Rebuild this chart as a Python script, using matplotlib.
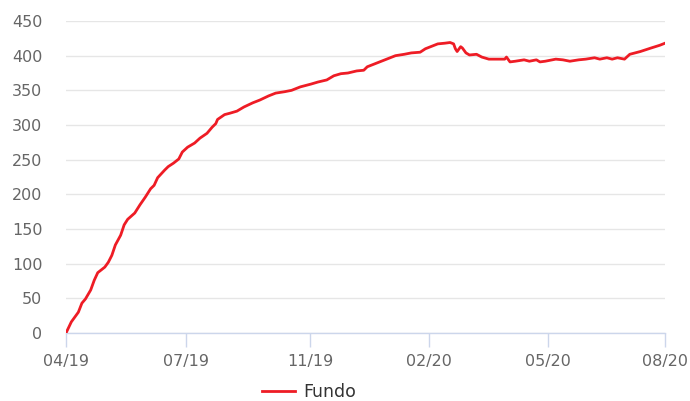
import numpy as np
import matplotlib

matplotlib.use("Agg")
import matplotlib.pyplot as plt

# Trading-day index (0 = 04/19) and fund value
dias = [0, 3, 7, 9, 11, 14, 16, 18, 22, 24, 26, 28, 31, 33, 35, 39, 42, 45,
        48, 50, 52, 56, 58, 61, 64, 66, 69, 73, 76, 80, 83, 85, 86, 90, 93,
        97, 101, 106, 110, 115, 119, 124, 128, 133, 139, 143, 148, 152, 156,
        160, 165, 169, 171, 175, 179, 184, 187, 192, 196, 201, 204, 208, 211,
        215, 218, 220, 221, 222, 224, 225, 227, 229, 233, 236, 240, 244, 249,
        250, 252, 255, 260, 263, 267, 269, 272, 276, 278, 282, 286, 291, 295,
        300, 303, 307, 310, 313, 317, 320, 326, 332, 337, 340]
fundo = [0, 16, 30, 43, 49, 62, 76, 87, 95, 102, 112, 127, 141, 156, 164,
         173, 185, 196, 208, 213, 224, 235, 240, 245, 251, 261, 268, 274, 281,
         288, 297, 302, 308, 315, 317, 320, 326, 332, 336, 342, 346, 348, 350,
         355, 359, 362, 365, 371, 374, 375, 378, 379, 384, 388, 392, 397, 400,
         402, 404, 405, 410, 414, 417, 418, 419, 417, 410, 406, 413, 411, 404,
         401, 402, 398, 395, 395, 395, 398, 391, 392, 394, 392, 394, 391, 392,
         394, 395, 394, 392, 394, 395, 397, 395, 397, 395, 397, 395, 402, 406,
         411, 415, 418]

tick_pos = [0, 68, 138.5, 206, 273.5, 340]
tick_labels = ["04/19", "07/19", "11/19", "02/20", "05/20", "08/20"]
y_ticks = np.arange(0, 451, 50)

fig = plt.figure(figsize=(6.9, 4.01), dpi=100)
ax = fig.add_axes([0.0957, 0.1696, 0.8681, 0.778])

ax.plot(dias, fundo, color="#ee1c25", lw=2.0, label="Fundo", zorder=3)

ax.set_xlim(0, 340)
ax.set_ylim(0, 450)
ax.set_xticks(tick_pos)
ax.set_xticklabels(tick_labels)
ax.set_yticks(y_ticks)

# Highcharts-like look: horizontal grid, light blue x axis
ax.grid(axis="y", color="#e6e6e6", lw=1)
ax.set_axisbelow(True)
for side in ["left", "right", "top"]:
    ax.spines[side].set_visible(False)
ax.spines["bottom"].set_color("#ccd6eb")
ax.spines["bottom"].set_linewidth(1)
ax.tick_params(axis="x", length=10, width=1, color="#ccd6eb", pad=5,
               labelsize=11.5, labelcolor="#666666")
ax.tick_params(axis="y", length=0, pad=17, labelsize=11.5,
               labelcolor="#666666")

fig.legend(loc="center", bbox_to_anchor=(0.448, 0.022), frameon=False,
           fontsize=12.5, handlelength=1.9, handletextpad=0.5,
           borderpad=0.1, labelcolor="#333333")

plt.savefig("out.png", dpi=100)
plt.close()
